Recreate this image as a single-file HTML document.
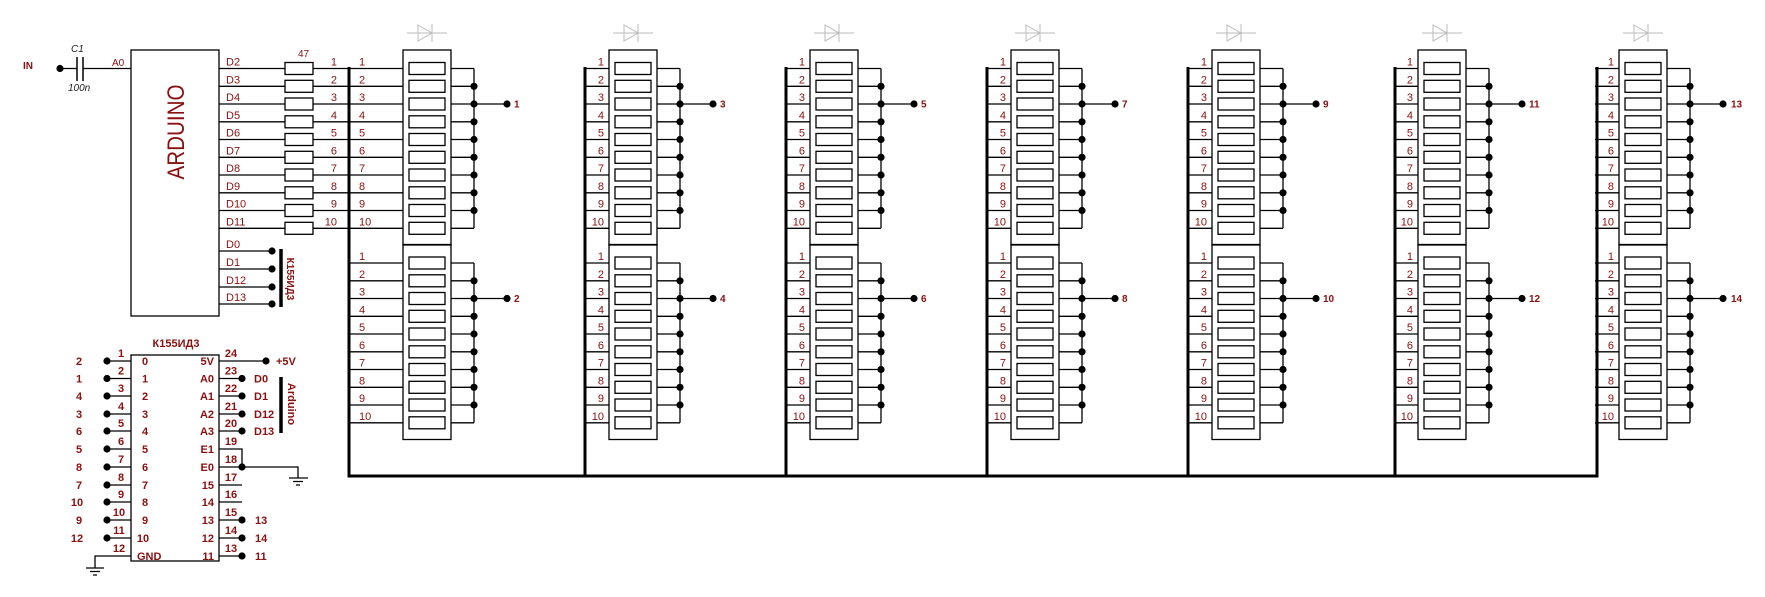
<!DOCTYPE html>
<html><head><meta charset="utf-8"><style>
html,body{margin:0;padding:0;background:#fff;}
svg{display:block;}
text{font-family:"Liberation Sans","Noto Sans CJK SC",sans-serif;fill:#8b1010;font-size:11px;}
.b{font-weight:bold;font-size:10px;}
</style></head><body>
<svg width="1765" height="597" viewBox="0 0 1765 597" xmlns="http://www.w3.org/2000/svg">
<defs>
<g id="sA" fill="none" stroke="#000" stroke-width="1.3">
<rect x="6" y="62.5" width="36" height="12"/><rect x="6" y="80.3" width="36" height="12"/><rect x="6" y="98" width="36" height="12"/><rect x="6" y="115.8" width="36" height="12"/><rect x="6" y="133.5" width="36" height="12"/><rect x="6" y="151.3" width="36" height="12"/><rect x="6" y="169" width="36" height="12"/><rect x="6" y="186.8" width="36" height="12"/><rect x="6" y="204.5" width="36" height="12"/><rect x="6" y="222.3" width="36" height="12"/>
</g>
<g id="dots">
<circle cx="0" cy="86.3" r="3.6"/><circle cx="0" cy="104" r="3.6"/><circle cx="0" cy="121.8" r="3.6"/><circle cx="0" cy="139.5" r="3.6"/><circle cx="0" cy="157.3" r="3.6"/><circle cx="0" cy="175" r="3.6"/><circle cx="0" cy="192.8" r="3.6"/><circle cx="0" cy="210.5" r="3.6"/>
</g>
<g id="hB">
<rect x="0" y="50" width="48" height="195" fill="none" stroke="#000" stroke-width="1.3"/>
<use href="#sA"/>
<path d="M48 68.5H71M48 86.3H71M48 104H104M48 121.8H71M48 139.5H71M48 157.3H71M48 175H71M48 192.8H71M48 210.5H71M48 228.3H71M71 68.5V228.3" stroke="#000" stroke-width="1.3" fill="none"/>
<use href="#dots" transform="translate(71,0)"/>
<circle cx="104" cy="104" r="3.6"/>
</g>
<g id="dio" fill="none" stroke="#bbb" stroke-width="1">
<path d="M-20 33H20M-9 25L5 33L-9 41ZM5 24V42"/>
</g>
<g id="mB"><use href="#hB"/><use href="#hB" transform="translate(0,194.5)"/><use href="#dio" transform="translate(24,0)"/></g>
<path id="ll" d="M-24 68.5H0M-24 86.3H0M-24 104H0M-24 121.8H0M-24 139.5H0M-24 157.3H0M-24 175H0M-24 192.8H0M-24 210.5H0M-24 228.3H0M-24 263H0M-24 280.8H0M-24 298.5H0M-24 316.3H0M-24 334H0M-24 351.8H0M-24 369.5H0M-24 387.3H0M-24 405H0M-24 422.8H0" stroke="#000" stroke-width="1.3" fill="none"/>
</defs>

<use href="#mB" transform="translate(403,0)"/>
<use href="#mB" transform="translate(609,0)"/>
<use href="#mB" transform="translate(810,0)"/>
<use href="#mB" transform="translate(1011,0)"/>
<use href="#mB" transform="translate(1212,0)"/>
<use href="#mB" transform="translate(1418,0)"/>
<use href="#mB" transform="translate(1619,0)"/>

<path d="M313 68.5H403M313 86.3H403M313 104H403M313 121.8H403M313 139.5H403M313 157.3H403M313 175H403M313 192.8H403M313 210.5H403M313 228.3H403M349 263H403M349 280.8H403M349 298.5H403M349 316.3H403M349 334H403M349 351.8H403M349 369.5H403M349 387.3H403M349 405H403M349 422.8H403" stroke="#000" stroke-width="1.3" fill="none"/>
<use href="#ll" transform="translate(609,0)"/>
<use href="#ll" transform="translate(810,0)"/>
<use href="#ll" transform="translate(1011,0)"/>
<use href="#ll" transform="translate(1212,0)"/>
<use href="#ll" transform="translate(1418,0)"/>
<use href="#ll" transform="translate(1619,0)"/>

<path d="M349 67V476M585 67V476M786 67V476M987 67V476M1188 67V476M1395 67V476M1597 67V477M347.5 476H1598.5" stroke="#000" stroke-width="3" fill="none"/>

<g fill="none" stroke="#000" stroke-width="1.3">
<rect x="131" y="50" width="88" height="266"/>
<path d="M219 68.5H285M219 86.3H285M219 104H285M219 121.8H285M219 139.5H285M219 157.3H285M219 175H285M219 192.8H285M219 210.5H285M219 228.3H285"/>
<rect x="285" y="62.5" width="28" height="12"/><rect x="285" y="80.3" width="28" height="12"/><rect x="285" y="98" width="28" height="12"/><rect x="285" y="115.8" width="28" height="12"/><rect x="285" y="133.5" width="28" height="12"/><rect x="285" y="151.3" width="28" height="12"/><rect x="285" y="169" width="28" height="12"/><rect x="285" y="186.8" width="28" height="12"/><rect x="285" y="204.5" width="28" height="12"/><rect x="285" y="222.3" width="28" height="12"/>
<path d="M219 251H272M219 269H272M219 287H272M219 304H272"/>
<path d="M60 68.5H77M83 68.5H131"/>
<path d="M77 57V81M83 57V81" stroke-width="1.5"/>
</g>
<path d="M281 249V307" stroke="#000" stroke-width="3.5"/>
<g><circle cx="272" cy="251" r="3.6"/><circle cx="272" cy="269" r="3.6"/><circle cx="272" cy="287" r="3.6"/><circle cx="272" cy="304" r="3.6"/><circle cx="60" cy="68.5" r="3.6"/></g>
<text x="23" y="69" class="b">IN</text>
<text x="71" y="52" style="fill:#222;font-style:italic;font-size:10px">C1</text>
<text x="68" y="91" style="fill:#222;font-style:italic;font-size:10px">100n</text>
<text x="112" y="66" style="font-size:10px">A0</text>
<text transform="translate(184,132) rotate(-90)" text-anchor="middle" style="font-size:24px" textLength="95" lengthAdjust="spacingAndGlyphs">ARDUINO</text>
<text x="298" y="57" style="font-size:10px">47</text>
<g style="font-size:10.5px">
<text x="226" y="65.5">D2</text><text x="226" y="83.3">D3</text><text x="226" y="101">D4</text><text x="226" y="118.8">D5</text><text x="226" y="136.5">D6</text><text x="226" y="154.3">D7</text><text x="226" y="172">D8</text><text x="226" y="189.8">D9</text><text x="226" y="207.5">D10</text><text x="226" y="225.3">D11</text>
<text x="226" y="248">D0</text><text x="226" y="266">D1</text><text x="226" y="284">D12</text><text x="226" y="301">D13</text>
</g>
<text transform="translate(287,279) rotate(90)" text-anchor="middle" class="b">К155ИД3</text>
<g text-anchor="end" style="font-size:10.5px">
<text x="337" y="65.5">1</text><text x="337" y="83.3">2</text><text x="337" y="101">3</text><text x="337" y="118.8">4</text><text x="337" y="136.5">5</text><text x="337" y="154.3">6</text><text x="337" y="172">7</text><text x="337" y="189.8">8</text><text x="337" y="207.5">9</text><text x="337" y="225.3">10</text>
</g>

<g style="font-size:10.5px">
<text x="359" y="65.5">1</text><text x="359" y="83.3">2</text><text x="359" y="101">3</text><text x="359" y="118.8">4</text><text x="359" y="136.5">5</text><text x="359" y="154.3">6</text><text x="359" y="172">7</text><text x="359" y="189.8">8</text><text x="359" y="207.5">9</text><text x="359" y="225.3">10</text>
<text x="359" y="260">1</text><text x="359" y="277.8">2</text><text x="359" y="295.5">3</text><text x="359" y="313.3">4</text><text x="359" y="331">5</text><text x="359" y="348.8">6</text><text x="359" y="366.5">7</text><text x="359" y="384.3">8</text><text x="359" y="402">9</text><text x="359" y="419.8">10</text>
</g>
<g text-anchor="end" style="font-size:10.5px">
<text x="604" y="65.5">1</text><text x="604" y="83.3">2</text><text x="604" y="101">3</text><text x="604" y="118.8">4</text><text x="604" y="136.5">5</text><text x="604" y="154.3">6</text><text x="604" y="172">7</text><text x="604" y="189.8">8</text><text x="604" y="207.5">9</text><text x="604" y="225.3">10</text>
<text x="604" y="260">1</text><text x="604" y="277.8">2</text><text x="604" y="295.5">3</text><text x="604" y="313.3">4</text><text x="604" y="331">5</text><text x="604" y="348.8">6</text><text x="604" y="366.5">7</text><text x="604" y="384.3">8</text><text x="604" y="402">9</text><text x="604" y="419.8">10</text>
<text x="805" y="65.5">1</text><text x="805" y="83.3">2</text><text x="805" y="101">3</text><text x="805" y="118.8">4</text><text x="805" y="136.5">5</text><text x="805" y="154.3">6</text><text x="805" y="172">7</text><text x="805" y="189.8">8</text><text x="805" y="207.5">9</text><text x="805" y="225.3">10</text>
<text x="805" y="260">1</text><text x="805" y="277.8">2</text><text x="805" y="295.5">3</text><text x="805" y="313.3">4</text><text x="805" y="331">5</text><text x="805" y="348.8">6</text><text x="805" y="366.5">7</text><text x="805" y="384.3">8</text><text x="805" y="402">9</text><text x="805" y="419.8">10</text>
<text x="1006" y="65.5">1</text><text x="1006" y="83.3">2</text><text x="1006" y="101">3</text><text x="1006" y="118.8">4</text><text x="1006" y="136.5">5</text><text x="1006" y="154.3">6</text><text x="1006" y="172">7</text><text x="1006" y="189.8">8</text><text x="1006" y="207.5">9</text><text x="1006" y="225.3">10</text>
<text x="1006" y="260">1</text><text x="1006" y="277.8">2</text><text x="1006" y="295.5">3</text><text x="1006" y="313.3">4</text><text x="1006" y="331">5</text><text x="1006" y="348.8">6</text><text x="1006" y="366.5">7</text><text x="1006" y="384.3">8</text><text x="1006" y="402">9</text><text x="1006" y="419.8">10</text>
<text x="1207" y="65.5">1</text><text x="1207" y="83.3">2</text><text x="1207" y="101">3</text><text x="1207" y="118.8">4</text><text x="1207" y="136.5">5</text><text x="1207" y="154.3">6</text><text x="1207" y="172">7</text><text x="1207" y="189.8">8</text><text x="1207" y="207.5">9</text><text x="1207" y="225.3">10</text>
<text x="1207" y="260">1</text><text x="1207" y="277.8">2</text><text x="1207" y="295.5">3</text><text x="1207" y="313.3">4</text><text x="1207" y="331">5</text><text x="1207" y="348.8">6</text><text x="1207" y="366.5">7</text><text x="1207" y="384.3">8</text><text x="1207" y="402">9</text><text x="1207" y="419.8">10</text>
<text x="1413" y="65.5">1</text><text x="1413" y="83.3">2</text><text x="1413" y="101">3</text><text x="1413" y="118.8">4</text><text x="1413" y="136.5">5</text><text x="1413" y="154.3">6</text><text x="1413" y="172">7</text><text x="1413" y="189.8">8</text><text x="1413" y="207.5">9</text><text x="1413" y="225.3">10</text>
<text x="1413" y="260">1</text><text x="1413" y="277.8">2</text><text x="1413" y="295.5">3</text><text x="1413" y="313.3">4</text><text x="1413" y="331">5</text><text x="1413" y="348.8">6</text><text x="1413" y="366.5">7</text><text x="1413" y="384.3">8</text><text x="1413" y="402">9</text><text x="1413" y="419.8">10</text>
<text x="1614" y="65.5">1</text><text x="1614" y="83.3">2</text><text x="1614" y="101">3</text><text x="1614" y="118.8">4</text><text x="1614" y="136.5">5</text><text x="1614" y="154.3">6</text><text x="1614" y="172">7</text><text x="1614" y="189.8">8</text><text x="1614" y="207.5">9</text><text x="1614" y="225.3">10</text>
<text x="1614" y="260">1</text><text x="1614" y="277.8">2</text><text x="1614" y="295.5">3</text><text x="1614" y="313.3">4</text><text x="1614" y="331">5</text><text x="1614" y="348.8">6</text><text x="1614" y="366.5">7</text><text x="1614" y="384.3">8</text><text x="1614" y="402">9</text><text x="1614" y="419.8">10</text>
</g>
<g class="b">
<text x="514" y="107.5" class="b">1</text><text x="514" y="302" class="b">2</text>
<text x="720" y="107.5" class="b">3</text><text x="720" y="302" class="b">4</text>
<text x="921" y="107.5" class="b">5</text><text x="921" y="302" class="b">6</text>
<text x="1122" y="107.5" class="b">7</text><text x="1122" y="302" class="b">8</text>
<text x="1323" y="107.5" class="b">9</text><text x="1323" y="302" class="b">10</text>
<text x="1529" y="107.5" class="b">11</text><text x="1529" y="302" class="b">12</text>
<text x="1731" y="107.5" class="b">13</text><text x="1731" y="302" class="b">14</text>
</g>

<g fill="none" stroke="#000" stroke-width="1.3">
<rect x="131" y="355" width="88" height="206"/>
<path d="M107 361H131M107 378.5H131M107 396H131M107 414H131M107 431H131M107 449H131M107 467H131M107 485H131M107 502H131M107 520H131M107 538H131M131 556H95V568M86 568H104M90 571.5H100M93 575H97"/>
<path d="M219 361H266M219 378.5H242M219 396H242M219 414H242M219 431H242M219 449H242V467M219 467H298V478M289 478H308M293 481.5H303M296 485H300M219 485H242M219 502H242M219 520H242M219 538H242M219 556H242"/>
</g>
<path d="M281 377V433" stroke="#000" stroke-width="3.5"/>
<g>
<circle cx="107" cy="361" r="3.6"/><circle cx="107" cy="378.5" r="3.6"/><circle cx="107" cy="396" r="3.6"/><circle cx="107" cy="414" r="3.6"/><circle cx="107" cy="431" r="3.6"/><circle cx="107" cy="449" r="3.6"/><circle cx="107" cy="467" r="3.6"/><circle cx="107" cy="485" r="3.6"/><circle cx="107" cy="502" r="3.6"/><circle cx="107" cy="520" r="3.6"/><circle cx="107" cy="538" r="3.6"/>
<circle cx="266" cy="361" r="3.6"/><circle cx="242" cy="378.5" r="3.6"/><circle cx="242" cy="396" r="3.6"/><circle cx="242" cy="414" r="3.6"/><circle cx="242" cy="431" r="3.6"/><circle cx="242" cy="467" r="3.6"/><circle cx="242" cy="520" r="3.6"/><circle cx="242" cy="538" r="3.6"/><circle cx="242" cy="556" r="3.6"/>
</g>
<g class="b">
<text x="176" y="347" text-anchor="middle">К155ИД3</text>
<g text-anchor="middle">
<text x="79" y="365">2</text><text x="79" y="382.5">1</text><text x="79" y="400">4</text><text x="79" y="418">3</text><text x="79" y="435">6</text><text x="79" y="453">5</text><text x="79" y="471">8</text><text x="79" y="489">7</text><text x="77" y="506">10</text><text x="79" y="524">9</text><text x="77" y="542">12</text>
<text x="121" y="357">1</text><text x="121" y="374.5">2</text><text x="121" y="392">3</text><text x="121" y="410">4</text><text x="121" y="427">5</text><text x="121" y="445">6</text><text x="121" y="463">7</text><text x="121" y="481">8</text><text x="121" y="498">9</text><text x="119" y="516">10</text><text x="119" y="534">11</text><text x="119" y="552">12</text>
<text x="145" y="365">0</text><text x="145" y="382.5">1</text><text x="145" y="400">2</text><text x="145" y="418">3</text><text x="145" y="435">4</text><text x="145" y="453">5</text><text x="145" y="471">6</text><text x="145" y="489">7</text><text x="145" y="506">8</text><text x="145" y="524">9</text><text x="143" y="542">10</text>
<text x="231" y="357">24</text><text x="231" y="374.5">23</text><text x="231" y="392">22</text><text x="231" y="410">21</text><text x="231" y="427">20</text><text x="231" y="445">19</text><text x="231" y="463">18</text><text x="231" y="481">17</text><text x="231" y="498">16</text><text x="231" y="516">15</text><text x="231" y="534">14</text><text x="231" y="552">13</text>
</g>
<text x="137" y="560">GND</text>
<g text-anchor="end">
<text x="214" y="365">5V</text><text x="214" y="382.5">A0</text><text x="214" y="400">A1</text><text x="214" y="418">A2</text><text x="214" y="435">A3</text><text x="214" y="453">E1</text><text x="214" y="471">E0</text><text x="214" y="489">15</text><text x="214" y="506">14</text><text x="214" y="524">13</text><text x="214" y="542">12</text><text x="214" y="560">11</text>
</g>
<text x="276" y="365">+5V</text>
<text x="254" y="382.5">D0</text><text x="254" y="400">D1</text><text x="254" y="418">D12</text><text x="254" y="435">D13</text>
<text x="255" y="524">13</text><text x="255" y="542">14</text><text x="255" y="560">11</text>
<text transform="translate(288,404) rotate(90)" text-anchor="middle">Arduino</text>
</g>
</svg>
</body></html>
